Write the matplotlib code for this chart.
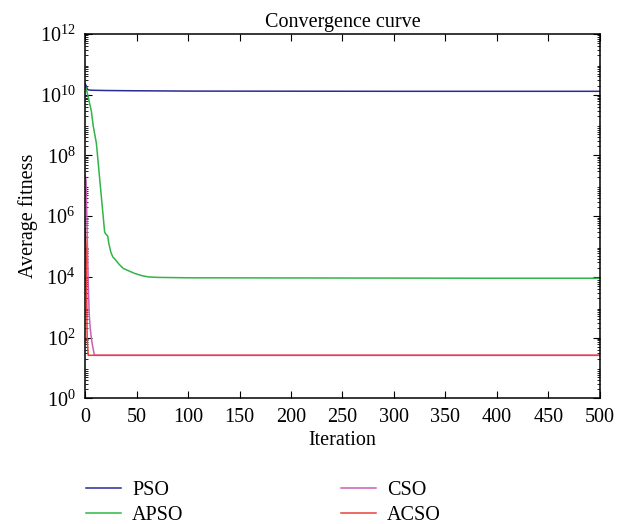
import matplotlib
matplotlib.use("Agg")
import matplotlib.pyplot as plt
from matplotlib.ticker import LogLocator, MultipleLocator, NullFormatter

plt.rcParams['font.family'] = ['Liberation Serif', 'DejaVu Serif']
plt.rcParams['mathtext.fontset'] = 'custom'
plt.rcParams['mathtext.rm'] = 'Liberation Serif'
plt.rcParams['mathtext.it'] = 'Liberation Serif:italic'

# Data (iteration, average fitness)
pso_iter = [0, 1, 2, 3, 5, 10, 20, 40, 70, 100, 200, 300, 400, 500]
pso_val = [2.3e10, 2.0e10, 1.6e10, 1.45e10, 1.42e10, 1.40e10, 1.38e10, 1.36e10, 1.34e10, 1.32e10, 1.31e10, 1.30e10, 1.30e10, 1.30e10]

apso_iter = [0, 2, 4, 6, 8, 11, 14, 17, 19, 20, 22, 23, 25, 27, 30, 33, 37, 42, 48, 55, 61, 70, 100, 200, 300, 400, 500]
apso_val = [2.0e10, 1.2e10, 6e9, 3e9, 9e8, 2.5e8, 2e7, 1.6e6, 3e5, 2.6e5, 2.2e5, 1.3e5, 6.5e4, 4.5e4, 3.5e4, 2.6e4, 1.9e4, 1.6e4, 1.3e4, 1.1e4, 1.0e4, 9.6e3, 9.3e3, 9.2e3, 9.1e3, 9.0e3, 9.0e3]

cso_iter = [0, 1, 2, 3, 4, 5, 6, 7, 8, 9, 10, 500]
cso_val = [2.2e7, 1.5e7, 3e5, 8e3, 6e2, 2e2, 1e2, 60, 40, 27, 26, 26]

acso_iter = [0, 1, 2, 3, 500]
acso_val = [4e5, 1e5, 1e2, 26, 26]

series_names = ['PSO', 'APSO', 'CSO', 'ACSO']
colors = ['#2b2b95', '#2fb548', '#cc5fb3', '#e8413a']

fig = plt.figure(figsize=(6.21, 5.24), dpi=100)
ax = fig.add_axes([0.137, 0.240, 0.829, 0.695])

l1, = ax.plot(pso_iter, pso_val, color=colors[0], lw=1.1)
l2, = ax.plot(apso_iter, apso_val, color=colors[1], lw=1.1)
l3, = ax.plot(cso_iter, cso_val, color=colors[2], lw=1.1)
l4, = ax.plot(acso_iter, acso_val, color=colors[3], lw=1.1)

ax.set_yscale('log')
ax.set_xlim(0, 500)
ax.set_ylim(1, 1e12)
ax.xaxis.set_major_locator(MultipleLocator(50))
ax.set_yticks([1e0, 1e2, 1e4, 1e6, 1e8, 1e10, 1e12])
ax.yaxis.set_minor_locator(LogLocator(base=10, subs=[2, 3, 4, 5, 6, 7, 8, 9], numticks=30))
ax.yaxis.set_minor_formatter(NullFormatter())

ax.tick_params(axis='both', which='both', direction='in', top=True, right=True, labelsize=14.5)
ax.tick_params(axis='both', which='major', length=5, pad=7)
ax.tick_params(axis='y', which='minor', length=2.5)
for s in ax.spines.values():
    s.set_linewidth(1.1)

ax.set_title('Convergence curve', fontsize=14.5, pad=5)
ax.set_xlabel('Iteration', fontsize=14.5, labelpad=3)
ax.set_ylabel('Average fitness', fontsize=14.5, labelpad=1)

fig.legend([l1, l2, l3, l4], series_names, loc='lower left', bbox_to_anchor=(0.109, -0.036),
           ncol=2, frameon=False, fontsize=14.5, handlelength=1.75, columnspacing=7.8,
           labelspacing=0.3, handletextpad=0.55)

fig.savefig('out.png', dpi=100)
